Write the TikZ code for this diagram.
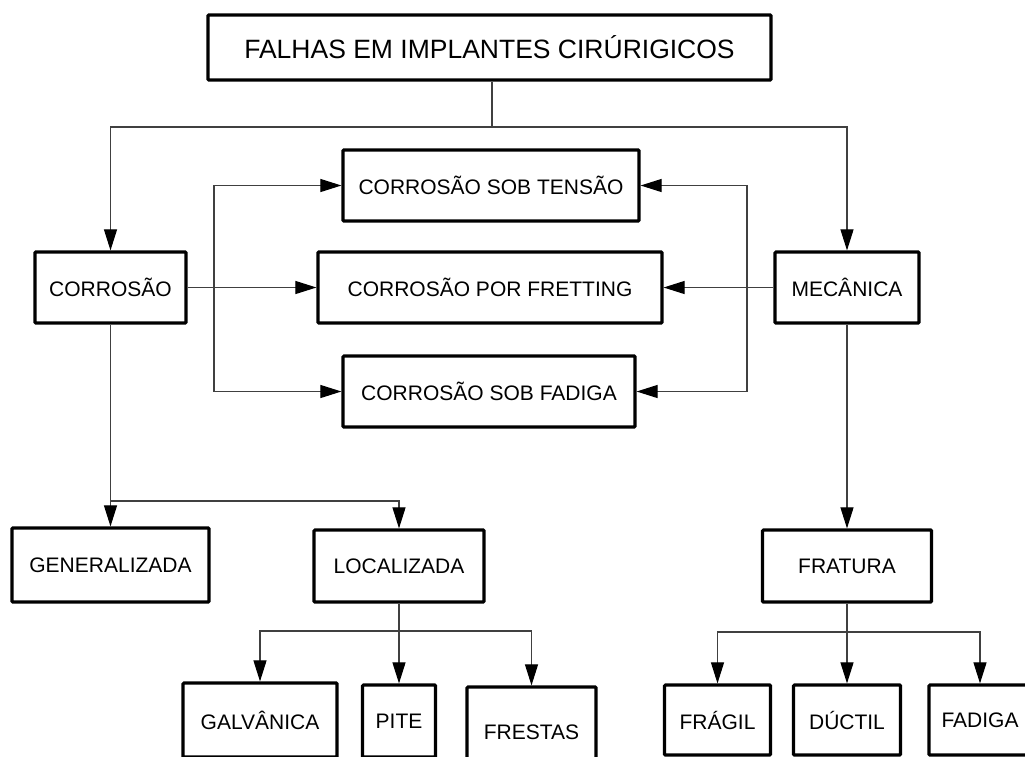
\documentclass[tikz,border=0pt]{standalone}
\usepackage{fontspec}
\setmainfont{Liberation Sans}
\usetikzlibrary{arrows.meta}

\tikzset{
  box/.style={draw, line width=3.2pt, rounded corners=1pt, align=center, inner sep=0pt,
    font=\fontsize{21pt}{25pt}\selectfont},
  arr/.style={draw=black!75, line width=1.1pt, -{Triangle[length=21pt,width=13pt,color=black]}},
  link/.style={draw=black!75, line width=1.1pt},
}

\begin{document}
\begin{tikzpicture}[x=1pt,y=-1pt]

\useasboundingbox (0,0) rectangle (1025,756);

% boxes
\node[box, minimum width=563pt, minimum height=65pt, font=\fontsize{26.5pt}{30pt}\selectfont] (falhas) at (489.5,47.5) {FALHAS EM IMPLANTES CIRÚRIGICOS};

\node[box, minimum width=151pt, minimum height=71pt] (corrosao) at (110.5,287.5) {CORROSÃO};
\node[box, minimum width=144pt, minimum height=71pt] (mecanica) at (847,287.5) {MECÂNICA};

\node[box, minimum width=296pt, minimum height=71pt] (tensao) at (491,185.5) {CORROSÃO SOB TENSÃO};
\node[box, minimum width=344pt, minimum height=71pt] (fretting) at (490,287.5) {CORROSÃO POR FRETTING};
\node[box, minimum width=292pt, minimum height=71pt] (fadigacor) at (489,391.5) {CORROSÃO SOB FADIGA};

\node[box, minimum width=197pt, minimum height=74pt] (generalizada) at (110.5,565) {GENERALIZADA};
\node[box, minimum width=170pt, minimum height=72pt] (localizada) at (399,566) {LOCALIZADA};
\node[box, minimum width=169pt, minimum height=72pt] (fratura) at (847,566) {FRATURA};

\node[box, minimum width=154pt, minimum height=74pt] (galvanica) at (260,720) {GALVÂNICA};
\node[box, minimum width=73pt, minimum height=72pt] (pite) at (399,721) {PITE};
\node[box, minimum width=129pt, minimum height=90pt] (frestas) at (531.5,732) {FRESTAS};

\node[box, minimum width=106pt, minimum height=70pt] (fragil) at (717.5,720) {FRÁGIL};
\node[box, minimum width=107pt, minimum height=70pt] (ductil) at (847,720) {DÚCTIL};
\node[box, minimum width=102pt, minimum height=70pt] (fadiga) at (980,720) {FADIGA};

% junctions
\coordinate (topj) at (492,127);
\coordinate (leftj) at (214,287.5);
\coordinate (rightj) at (747,287.5);
\coordinate (corj) at (110.5,501);
\coordinate (locj) at (399,631);
\coordinate (fraj) at (847,632);

% top level
\draw[link] ([xshift=2.5pt]falhas.south) -- (topj);
\draw[arr] (topj) -| (corrosao.north);
\draw[arr] (topj) -| (mecanica.north);

% middle
\draw[arr] (corrosao.east) -- (fretting.west);
\draw[arr] (leftj) |- (tensao.west);
\draw[arr] (leftj) |- (fadigacor.west);
\draw[arr] (mecanica.west) -- (fretting.east);
\draw[arr] (rightj) |- (tensao.east);
\draw[arr] (rightj) |- (fadigacor.east);

% corrosao branch
\draw[arr] (corrosao.south) -- (generalizada.north);
\draw[arr] (corj) -| (localizada.north);
\draw[arr] (localizada.south) -- (pite.north);
\draw[arr] (locj) -| (galvanica.north);
\draw[arr] (locj) -| (frestas.north);

% mecanica branch
\draw[arr] (mecanica.south) -- (fratura.north);
\draw[arr] (fratura.south) -- (ductil.north);
\draw[arr] (fraj) -| (fragil.north);
\draw[arr] (fraj) -| (fadiga.north);

\end{tikzpicture}
\end{document}
